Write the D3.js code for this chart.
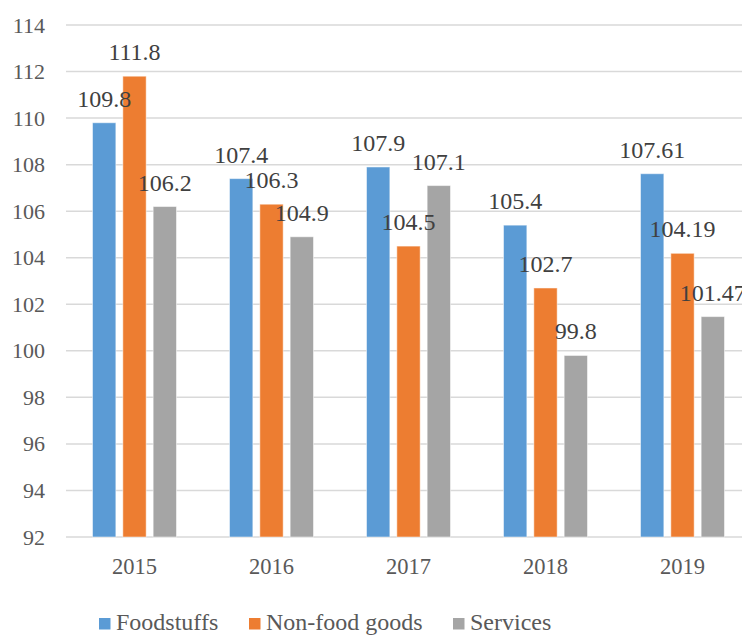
<!DOCTYPE html>
<html><head><meta charset="utf-8">
<script src="https://cdn.jsdelivr.net/npm/d3@7"></script>
</head><body style="margin:0">
<svg id="c" width="742" height="635" font-family="Liberation Serif"></svg>
<script>
const years = ["2015","2016","2017","2018","2019"];
const seriesNames = ["Foodstuffs","Non-food goods","Services"];
const foodstuffs = [109.8,107.4,107.9,105.4,107.61];
const nonFood = [111.8,106.3,104.5,102.7,104.19];
const services = [106.2,104.9,107.1,99.8,101.47];
const labels = [["109.8","107.4","107.9","105.4","107.61"],["111.8","106.3","104.5","102.7","104.19"],["106.2","104.9","107.1","99.8","101.47"]];
const yTicks = [92,94,96,98,100,102,104,106,108,110,112,114];
const colors = ["#5B9BD5","#ED7D31","#A5A5A5"];
const values = [foodstuffs, nonFood, services];

const svg = d3.select("#c");
const FONT = "Liberation Serif";
const x0 = d3.scaleBand().domain(years).range([66,751]).paddingInner(0.336).paddingOuter(0.168);
const x1 = d3.scaleBand().domain(seriesNames).range([0,x0.bandwidth()]).paddingInner(0.23).paddingOuter(0.115);
const y = d3.scaleLinear().domain([92,114]).range([537,25]);

svg.append("g").selectAll("line").data(yTicks).join("line")
  .attr("x1",66).attr("x2",751).attr("y1",d=>y(d)).attr("y2",d=>y(d))
  .attr("stroke","#d9d9d9").attr("stroke-width",1.5);

svg.append("g").selectAll("text").data(yTicks).join("text")
  .attr("x",45).attr("y",d=>y(d)+7.5).attr("text-anchor","end")
  .style("font-family",FONT).style("font-size","22px").style("fill","#595959").text(d=>d);

svg.append("g").selectAll("text").data(years).join("text")
  .attr("x",d=>x0(d)+x0.bandwidth()/2).attr("y",574).attr("text-anchor","middle")
  .style("font-family",FONT).style("font-size","22.5px").style("fill","#595959").text(d=>d);

seriesNames.forEach((s,si)=>{
  svg.append("g").selectAll("rect").data(years).join("rect")
    .attr("x",d=>x0(d)+x1(s)).attr("width",x1.bandwidth())
    .attr("y",(d,i)=>y(values[si][i])).attr("height",(d,i)=>y(92)-y(values[si][i]))
    .attr("fill",colors[si]).attr("stroke","#fff").attr("stroke-opacity",0.5).attr("stroke-width",1);
});
seriesNames.forEach((s,si)=>{
  svg.append("g").selectAll("text").data(years).join("text")
    .attr("x",d=>x0(d)+x1(s)+x1.bandwidth()/2).attr("y",(d,i)=>y(values[si][i])-16)
    .attr("text-anchor","middle")
    .style("font-family",FONT).style("font-size","24px").style("fill","#404040")
    .text((d,i)=>labels[si][i]);
});

const legX = [99,249,453];
const lg = svg.append("g");
seriesNames.forEach((s,i)=>{
  lg.append("rect").attr("x",legX[i]).attr("y",618).attr("width",11.5).attr("height",11.5).attr("fill",colors[i]);
  lg.append("text").attr("x",legX[i]+17).attr("y",630)
    .style("font-family",FONT).style("font-size","24px").style("fill","#595959").text(s);
});
</script>
</body></html>
